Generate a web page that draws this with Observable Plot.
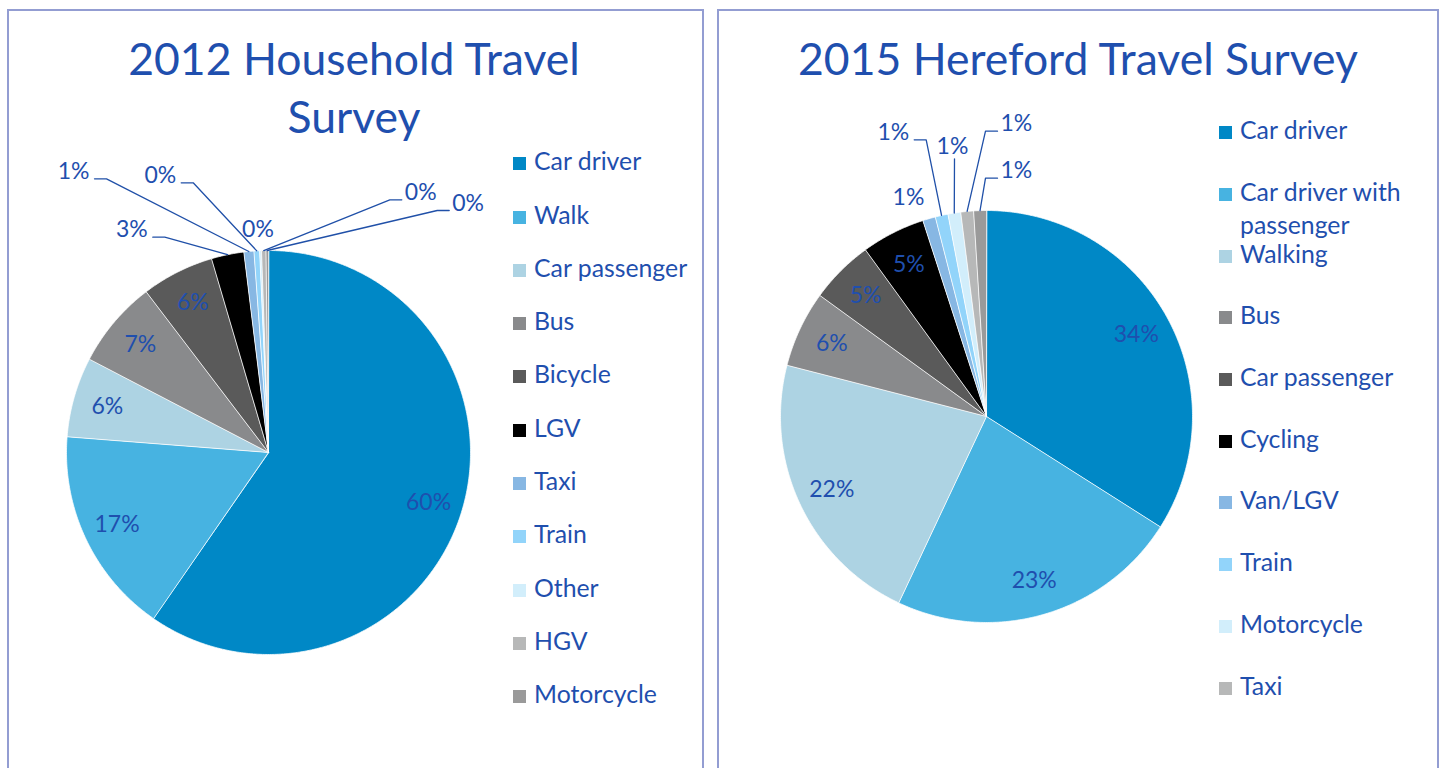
<!DOCTYPE html>
<html><head><meta charset="utf-8">
<script src="https://cdn.jsdelivr.net/npm/d3@7"></script>
<script src="https://cdn.jsdelivr.net/npm/@observablehq/plot@0.6"></script>
<style>
html,body{margin:0;padding:0;background:#fff;}
#root{position:relative;width:1446px;height:768px;overflow:hidden;font-family:Lato,sans-serif;}
.panel{position:absolute;top:9px;height:800px;border:2px solid #939dd2;box-sizing:border-box;}
.title{position:absolute;width:700px;color:#1f4fae;font-size:44.5px;text-align:center;line-height:58px;white-space:nowrap;}
.li{position:absolute;display:flex;align-items:baseline;color:#1f4fae;font-size:24.8px;line-height:33px;}
.sw{display:inline-block;width:13px;height:13px;margin-right:8px;flex:none;}
.tx{display:block;}
.plotwrap{position:absolute;top:0;}
</style></head>
<body><div id="root">
<div class="panel" style="left:7px;width:697px"></div>
<div class="panel" style="left:717px;width:722px"></div>
<div id="left" class="plotwrap" style="left:0px"></div>
<div id="right" class="plotwrap" style="left:711px"></div>
<div class="title" style="left:4px;top:28.8px">2012 Household Travel<br>Survey</div>
<div class="title" style="left:728px;top:28.8px">2015 Hereford Travel Survey</div>
</div>
<script>
// ---- data ----
const cats2012 = ["Car driver","Walk","Car passenger","Bus","Bicycle","LGV","Taxi","Train","Other","HGV","Motorcycle"];
const share2012 = [59.6,16.6,6.4,7.0,5.8,2.6,0.8,0.45,0.15,0.35,0.2];
const colors2012 = ["#0088c6","#47b3e1","#add3e3","#898a8c","#5a5a5a","#000000","#87b7e3","#92d4fa","#d2eefb","#b7b8b8","#9a9a9a"];

const cats2015 = ["Car driver","Car driver with passenger","Walking","Bus","Car passenger","Cycling","Van/LGV","Train","Motorcycle","Taxi","Other"];
const share2015 = [34,23,22,6,5,5,1,1,1,1,1];
const colors2015 = ["#0088c6","#47b3e1","#add3e3","#898a8c","#5a5a5a","#000000","#87b7e3","#92d4fa","#d2eefb","#b7b8b8","#9a9a9a"];
const legendCount2015 = 10; // legend is truncated in the original

// ---- layout (pixel offsets of call-out elbows relative to pie centre) ----
const callouts2012 = [
  {cat:"LGV", type:"left", ex:-103.7, ey:-215.3},
  {cat:"Taxi", type:"left", ex:-162, ey:-273.7},
  {cat:"Train", type:"left", ex:-75.3, ey:-269.7},
  {cat:"Other", type:"none", ex:-10.5, ey:-215.3},
  {cat:"HGV", type:"right", ex:121.3, ey:-252.7},
  {cat:"Motorcycle", type:"right", ex:168.7, ey:-242}
];
const callouts2015 = [
  {cat:"Van/LGV", type:"none", ex:-78, ey:-212},
  {cat:"Train", type:"left", ex:-60.3, ey:-276.7},
  {cat:"Motorcycle", type:"above", ex:-32, ey:-257.7},
  {cat:"Taxi", type:"right", ex:-1, ey:-285.3},
  {cat:"Other", type:"right", ex:-1, ey:-238.3}
];

const TXT = "#1f4fae";

function pie({el, cats, vals, colors, width, height, cx, cy, r, callouts}) {
  const total = d3.sum(vals);
  const arcs = d3.pie().sort(null).value(d => d)(vals);
  const pts = [];
  arcs.forEach((a, i) => {
    pts.push({k: cats[i], x: 0, y: 0});
    const n = Math.max(2, Math.ceil((a.endAngle - a.startAngle) / (Math.PI / 360)));
    for (let j = 0; j <= n; j++) {
      const t = a.startAngle + (a.endAngle - a.startAngle) * j / n;
      pts.push({k: cats[i], x: Math.sin(t), y: Math.cos(t)});
    }
  });
  const mid = i => (arcs[i].startAngle + arcs[i].endAngle) / 2;
  const pct = i => Math.round(vals[i] / total * 100) + "%";
  const inside = cats.map((c, i) => ({c, i})).filter(d => vals[d.i] / total * 100 >= 4)
    .map(d => ({x: 0.83 * Math.sin(mid(d.i)), y: 0.83 * Math.cos(mid(d.i)), label: pct(d.i)}));
  const lines = [], texts = [];
  callouts.forEach((c, n) => {
    const i = cats.indexOf(c.cat);
    const ax = Math.sin(mid(i)), ay = Math.cos(mid(i));
    const ex = c.ex / r, ey = -c.ey / r;
    if (c.type === "left") {
      lines.push({z: n, x: ax, y: ay}, {z: n, x: ex, y: ey}, {z: n, x: ex - 12 / r, y: ey});
      texts.push({x: ex - 17 / r, y: ey, label: pct(i), anchor: "end"});
    } else if (c.type === "right") {
      lines.push({z: n, x: ax, y: ay}, {z: n, x: ex, y: ey}, {z: n, x: ex + 12 / r, y: ey});
      texts.push({x: ex + 15 / r, y: ey, label: pct(i), anchor: "start"});
    } else if (c.type === "above") {
      lines.push({z: n, x: ax, y: ay}, {z: n, x: ex, y: ey});
      texts.push({x: ex - 2 / r, y: ey + 5 / r, label: pct(i), anchor: "middle"});
    } else {
      texts.push({x: ex, y: ey, label: pct(i), anchor: "middle"});
    }
  });
  const chart = Plot.plot({
    width, height, margin: 0,
    style: {background: "transparent", overflow: "visible"},
    x: {domain: [-1, 1], range: [cx - r, cx + r], axis: null},
    y: {domain: [-1, 1], range: [cy + r, cy - r], axis: null},
    color: {domain: cats, range: colors},
    marks: [
      Plot.line(pts, {x: "x", y: "y", z: "k", fill: "k", stroke: "#ffffff", strokeWidth: 0.75, curve: "linear-closed"}),
      Plot.text(inside, {x: "x", y: "y", text: "label", fill: TXT, fontSize: 23, fontFamily: "Lato", lineAnchor: "middle"}),
      Plot.line(lines, {x: "x", y: "y", z: "z", stroke: "#2050a8", strokeWidth: 1.3}),
      Plot.text(texts.filter(d => d.anchor === "end"), {x: "x", y: "y", text: "label", fill: TXT, fontSize: 23, fontFamily: "Lato", lineAnchor: "bottom", textAnchor: "end"}),
      Plot.text(texts.filter(d => d.anchor === "start"), {x: "x", y: "y", text: "label", fill: TXT, fontSize: 23, fontFamily: "Lato", lineAnchor: "bottom", textAnchor: "start"}),
      Plot.text(texts.filter(d => d.anchor === "middle"), {x: "x", y: "y", text: "label", fill: TXT, fontSize: 23, fontFamily: "Lato", lineAnchor: "bottom", textAnchor: "middle"})
    ]
  });
  document.getElementById(el).appendChild(chart);
}

pie({el: "left", cats: cats2012, vals: share2012, colors: colors2012, width: 711, height: 768, cx: 268, cy: 452, r: 202, callouts: callouts2012});
pie({el: "right", cats: cats2015, vals: share2015, colors: colors2015, width: 735, height: 768, cx: 275, cy: 416, r: 206, callouts: callouts2015});

// ---- legends (HTML) ----
function legend(cats, colors, count, left, base0, step, wrapWidth) {
  const root = document.getElementById("root");
  for (let i = 0; i < count; i++) {
    const d = document.createElement("div");
    d.className = "li";
    d.style.left = left + "px";
    d.style.top = (base0 + step * i - 26.1) + "px";
    const s = document.createElement("span");
    s.className = "sw"; s.style.background = colors[i];
    const t = document.createElement("span");
    t.className = "tx"; t.textContent = cats[i];
    if (wrapWidth) t.style.width = wrapWidth + "px";
    d.appendChild(s); d.appendChild(t);
    root.appendChild(d);
  }
}
legend(cats2012, colors2012, cats2012.length, 513, 170.3, 53.3, 0);
legend(cats2015, colors2015, legendCount2015, 1219, 139.3, 61.7, 180);
</script>
</body></html>
